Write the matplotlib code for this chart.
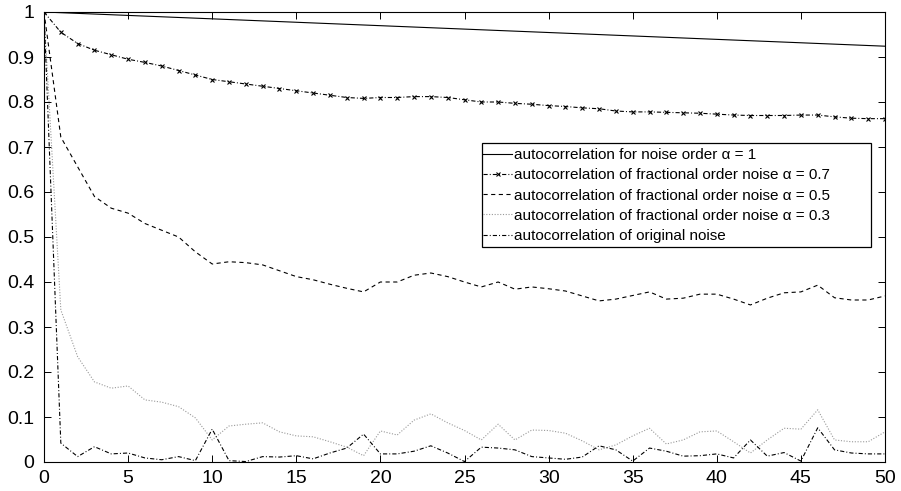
import matplotlib
matplotlib.use("Agg")
import matplotlib.pyplot as plt
from matplotlib.patches import Rectangle

plt.rcParams['font.family'] = ['Liberation Sans', 'DejaVu Sans']
plt.rcParams['lines.scale_dashes'] = False

lags = list(range(51))

# alpha = 1 (straight line, endpoints)
lag_a1 = [0, 50]
acf_a1 = [1.0, 0.924]

acf_a07 = [1.0, 0.955, 0.93, 0.915, 0.905, 0.895, 0.888, 0.88, 0.87, 0.86,
           0.85, 0.845, 0.84, 0.835, 0.83, 0.825, 0.82, 0.815, 0.81, 0.808,
           0.81, 0.81, 0.812, 0.812, 0.81, 0.805, 0.8, 0.8, 0.797, 0.795,
           0.792, 0.79, 0.787, 0.785, 0.78, 0.778, 0.778, 0.777, 0.776, 0.775,
           0.773, 0.771, 0.77, 0.77, 0.77, 0.771, 0.771, 0.767, 0.764, 0.763,
           0.763]

acf_a05 = [1.0, 0.722, 0.656, 0.59, 0.564, 0.553, 0.53, 0.515, 0.5, 0.467,
           0.44, 0.445, 0.443, 0.438, 0.425, 0.412, 0.405, 0.395, 0.386, 0.378,
           0.40, 0.40, 0.415, 0.42, 0.412, 0.40, 0.389, 0.40, 0.384, 0.389,
           0.385, 0.38, 0.369, 0.358, 0.362, 0.37, 0.378, 0.362, 0.364, 0.373,
           0.373, 0.362, 0.349, 0.364, 0.376, 0.378, 0.393, 0.365, 0.36, 0.36,
           0.369]

acf_a03 = [1.0, 0.338, 0.234, 0.178, 0.164, 0.169, 0.138, 0.133, 0.123, 0.098,
           0.049, 0.08, 0.084, 0.087, 0.067, 0.058, 0.056, 0.045, 0.033, 0.014,
           0.069, 0.06, 0.093, 0.107, 0.087, 0.07, 0.049, 0.084, 0.049, 0.071,
           0.07, 0.064, 0.047, 0.027, 0.038, 0.058, 0.075, 0.04, 0.049, 0.067,
           0.069, 0.045, 0.02, 0.049, 0.075, 0.073, 0.116, 0.049, 0.045, 0.045,
           0.067]

acf_orig = [1.0, 0.042, 0.012, 0.034, 0.018, 0.02, 0.009, 0.005, 0.012, 0.003,
            0.073, 0.003, 0.001, 0.012, 0.011, 0.014, 0.007, 0.02, 0.031, 0.062,
            0.018, 0.018, 0.024, 0.036, 0.02, 0.001, 0.033, 0.031, 0.027, 0.012,
            0.009, 0.006, 0.011, 0.036, 0.027, 0.002, 0.031, 0.024, 0.013, 0.014,
            0.018, 0.009, 0.049, 0.013, 0.021, 0.002, 0.076, 0.027, 0.02, 0.018,
            0.018]

labels = ["autocorrelation for noise order \u03b1 = 1",
          "autocorrelation of fractional order noise \u03b1 = 0.7",
          "autocorrelation of fractional order noise \u03b1 = 0.5",
          "autocorrelation of fractional order noise \u03b1 = 0.3",
          "autocorrelation of original noise"]

xticks = list(range(0, 51, 5))
yticks = [0, 0.1, 0.2, 0.3, 0.4, 0.5, 0.6, 0.7, 0.8, 0.9, 1]
ytick_labels = ["0", "0.1", "0.2", "0.3", "0.4", "0.5", "0.6", "0.7", "0.8", "0.9", "1"]

W, H = 901, 491
fig = plt.figure(figsize=(W / 100, H / 100), dpi=100)
ax_l, ax_r, ax_t, ax_b = 44, 885, 12, 462
ax = fig.add_axes([ax_l / W, 1 - ax_b / H, (ax_r - ax_l) / W, (ax_b - ax_t) / H])

lw = 0.8
ax.plot(lag_a1, acf_a1, color='black', lw=lw, label=labels[0])
ax.plot(lags, acf_a07, color='black', lw=lw, dashes=(3, 1.5, 0.7, 1.5),
        marker='x', markersize=3, markeredgewidth=0.8, label=labels[1])
ax.plot(lags, acf_a05, color='black', lw=lw, dashes=(3, 2.5), label=labels[2])
ax.plot(lags, acf_a03, color='#999999', lw=lw, dashes=(0.8, 1.2), label=labels[3])
ax.plot(lags, acf_orig, color='black', lw=lw, dashes=(3, 1.5, 0.7, 1.5), label=labels[4])

ax.set_xlim(0, 50)
ax.set_ylim(0, 1)
ax.set_xticks(xticks)
ax.set_xticklabels([str(t) for t in xticks])
ax.set_yticks(yticks)
ax.set_yticklabels(ytick_labels)
ax.tick_params(direction='in', length=5, width=0.7, top=True, right=True,
               labelsize=14, colors='black')
ax.tick_params(axis='y', pad=7)
ax.tick_params(axis='x', pad=6)
for s in ax.spines.values():
    s.set_linewidth(0.8)

# legend box (pixel geometry of the reference)
bx0, bx1, by0, by1 = 482, 871, 143, 247
aw, ah = ax_r - ax_l, ax_b - ax_t
rect = Rectangle(((bx0 - ax_l) / aw, (ax_b - by1) / ah), (bx1 - bx0) / aw, (by1 - by0) / ah,
                 transform=ax.transAxes, facecolor='white', edgecolor='black',
                 linewidth=0.9, zorder=4)
ax.add_patch(rect)

leg = ax.legend(loc='upper left', bbox_to_anchor=((bx0 + 1 - ax_l) / aw, (ax_b - by0 - 5) / ah),
                borderaxespad=0, fontsize=11, handlelength=1.9, handletextpad=0.15,
                labelspacing=0.41, borderpad=0, frameon=False, numpoints=1)
leg.set_zorder(5)

fig.savefig("out.png", dpi=100)
